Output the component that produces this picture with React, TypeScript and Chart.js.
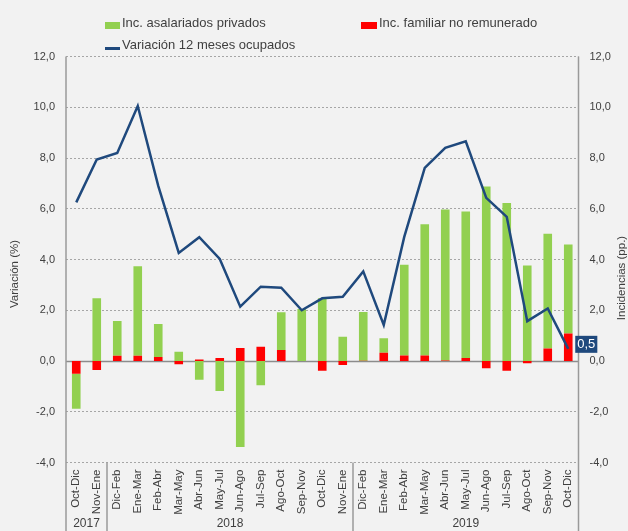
import React, { useEffect, useRef } from 'react';
import { Chart, registerables } from 'chart.js';

Chart.register(...registerables);

const categories = [
  'Oct-Dic', 'Nov-Ene',
  'Dic-Feb', 'Ene-Mar', 'Feb-Abr', 'Mar-May', 'Abr-Jun', 'May-Jul', 'Jun-Ago', 'Jul-Sep', 'Ago-Oct', 'Sep-Nov', 'Oct-Dic', 'Nov-Ene',
  'Dic-Feb', 'Ene-Mar', 'Feb-Abr', 'Mar-May', 'Abr-Jun', 'May-Jul', 'Jun-Ago', 'Jul-Sep', 'Ago-Oct', 'Sep-Nov', 'Oct-Dic',
];
const yearLabels = ['2017', '2018', '2019'];
const yearSpans = [2, 12, 11];

// Inc. asalariados privados (pp.)
const asalariados = [
  -1.38, 2.47,
  1.37, 3.52, 1.30, 0.36, -0.74, -1.18, -3.39, -0.96, 1.49, 2.05, 2.47, 0.96,
  1.92, 0.57, 3.57, 5.17, 5.95, 5.77, 6.88, 6.23, 3.76, 4.52, 3.51,
];
// Inc. familiar no remunerado (pp.)
const familiar = [
  -0.50, -0.35,
  0.21, 0.21, 0.16, -0.13, 0.06, 0.12, 0.51, 0.56, 0.43, 0.0, -0.38, -0.16,
  0.01, 0.33, 0.22, 0.22, 0.02, 0.12, -0.29, -0.38, -0.09, 0.49, 1.08,
];
// Variación 12 meses ocupados (%)
const variacion = [
  6.25, 7.94,
  8.2, 10.05, 6.9, 4.26, 4.88, 4.02, 2.14, 2.93, 2.89, 2.0, 2.47, 2.53,
  3.53, 1.42, 4.89, 7.61, 8.4, 8.66, 6.43, 5.68, 1.57, 2.07, 0.48,
];

const axisMin = -4;
const axisMax = 12;
const axisStep = 2;

const FONT = '"Liberation Sans", Arial, sans-serif';
const TEXT = '#3F3F3F';
const GREEN = '#92D050';
const RED = '#FF0000';
const BLUE = '#1F497D';
const BG = '#F2F2F2';

const fmt = (v: number) => v.toFixed(1).replace('.', ',');

const overlay = {
  id: 'overlay',
  beforeDatasetsDraw(chart: any) {
    const { ctx, chartArea } = chart;
    const y0 = Math.round(chart.scales.y2.getPixelForValue(0)) + 0.5;
    ctx.save();
    ctx.strokeStyle = '#8C8C8C';
    ctx.lineWidth = 1.5;
    ctx.beginPath();
    ctx.moveTo(chartArea.left, y0);
    ctx.lineTo(chartArea.right, y0);
    ctx.stroke();
    ctx.restore();
  },
  afterDraw(chart: any) {
    const { ctx, chartArea, height } = chart;
    const xs = chart.scales.x;
    const half = (xs.getPixelForValue(1) - xs.getPixelForValue(0)) / 2;
    ctx.save();
    ctx.strokeStyle = '#9A9A9A';
    ctx.lineWidth = 1.5;
    const vline = (px: number, y1: number, y2: number) => {
      ctx.beginPath();
      ctx.moveTo(px, y1);
      ctx.lineTo(px, y2);
      ctx.stroke();
    };
    vline(chartArea.left, chartArea.top, height);
    vline(chartArea.right, chartArea.top, height);
    let idx = 0;
    ctx.fillStyle = TEXT;
    ctx.font = `12px ${FONT}`;
    ctx.textAlign = 'center';
    ctx.textBaseline = 'alphabetic';
    yearSpans.forEach((span, i) => {
      const start = idx;
      const end = idx + span - 1;
      if (i > 0) vline(xs.getPixelForValue(start) - half, chartArea.bottom, height);
      const cx = (xs.getPixelForValue(start) + xs.getPixelForValue(end)) / 2;
      ctx.fillText(yearLabels[i], cx, 527);
      idx += span;
    });
    // axis titles
    ctx.font = `11.5px ${FONT}`;
    ctx.textBaseline = 'middle';
    ctx.save();
    ctx.translate(15, 274);
    ctx.rotate(-Math.PI / 2);
    ctx.fillText('Variación (%)', 0, 0);
    ctx.restore();
    ctx.save();
    ctx.translate(622, 278);
    ctx.rotate(-Math.PI / 2);
    ctx.fillText('Incidencias (pp.)', 0, 0);
    ctx.restore();
    // last value label
    const meta = chart.getDatasetMeta(0);
    const last = meta.data[meta.data.length - 1];
    const label = fmt(variacion[variacion.length - 1]);
    ctx.font = `13px ${FONT}`;
    const w = ctx.measureText(label).width + 4;
    const bx = last.x + 7;
    const by = last.y - 13;
    ctx.fillStyle = BLUE;
    ctx.fillRect(bx, by, w, 17);
    ctx.fillStyle = '#FFFFFF';
    ctx.textAlign = 'center';
    ctx.textBaseline = 'middle';
    ctx.fillText(label, bx + w / 2, by + 9);
    ctx.restore();
  },
};

export default function App() {
  const ref = useRef<HTMLCanvasElement>(null);

  useEffect(() => {
    document.body.style.margin = '0';
    document.body.style.background = BG;
    const canvas = ref.current;
    if (!canvas) return;
    const yFont = { family: FONT, size: 11 };
    const xFont = { family: FONT, size: 11.5 };
    const chart = new Chart(canvas, {
      type: 'bar',
      data: {
        labels: categories,
        datasets: [
          {
            type: 'line',
            label: 'Variación 12 meses ocupados',
            data: variacion,
            yAxisID: 'y',
            borderColor: BLUE,
            backgroundColor: BLUE,
            borderWidth: 2.5,
            pointRadius: 0,
            tension: 0,
            fill: false,
          },
          {
            type: 'bar',
            label: 'Inc. familiar no remunerado',
            data: familiar,
            yAxisID: 'y2',
            backgroundColor: RED,
            borderWidth: 0,
            categoryPercentage: 1,
            barPercentage: 0.42,
          },
          {
            type: 'bar',
            label: 'Inc. asalariados privados',
            data: asalariados,
            yAxisID: 'y2',
            backgroundColor: GREEN,
            borderWidth: 0,
            categoryPercentage: 1,
            barPercentage: 0.42,
          },
        ] as any,
      },
      options: {
        responsive: false,
        maintainAspectRatio: false,
        animation: false,
        devicePixelRatio: 1,
        layout: { padding: { top: 56.5, left: 0, right: 0, bottom: 0 } },
        plugins: { legend: { display: false }, tooltip: { enabled: false } },
        scales: {
          x: {
            stacked: true,
            grid: { display: false, drawTicks: false },
            border: { display: false },
            ticks: {
              font: xFont,
              color: TEXT,
              maxRotation: 90,
              minRotation: 90,
              autoSkip: false,
              padding: 7,
            },
            afterFit: (s: any) => { s.height = 68.5; },
          },
          y: {
            position: 'left',
            min: axisMin,
            max: axisMax,
            grid: { color: '#A6A6A6', lineWidth: 1, drawTicks: false },
            border: { display: false, dash: [2, 2] },
            ticks: {
              stepSize: axisStep,
              font: yFont,
              color: TEXT,
              padding: 11,
              callback: (v: any) => fmt(Number(v)),
            },
            afterFit: (s: any) => { s.width = 66; },
          },
          y2: {
            position: 'right',
            stacked: true,
            min: axisMin,
            max: axisMax,
            grid: { display: false, drawTicks: false },
            border: { display: false },
            ticks: {
              stepSize: axisStep,
              font: yFont,
              color: TEXT,
              padding: 11,
              callback: (v: any) => fmt(Number(v)),
            },
            afterFit: (s: any) => { s.width = 49.5; },
          },
        },
      } as any,
      plugins: [overlay],
    });
    return () => chart.destroy();
  }, []);

  const legendText: React.CSSProperties = {
    position: 'absolute',
    fontFamily: FONT,
    fontSize: 13,
    lineHeight: '15px',
    color: TEXT,
    whiteSpace: 'nowrap',
  };

  return (
    <div style={{ position: 'relative', width: 628, height: 531, background: BG, overflow: 'hidden' }}>
      <canvas ref={ref} width={628} height={531} style={{ display: 'block', width: 628, height: 531 }} />
      <div style={{ position: 'absolute', left: 105, top: 22, width: 15, height: 7, background: GREEN }} />
      <div style={{ ...legendText, left: 122, top: 15 }}>Inc. asalariados privados</div>
      <div style={{ position: 'absolute', left: 361, top: 22, width: 16, height: 7, background: RED }} />
      <div style={{ ...legendText, left: 379, top: 15 }}>Inc. familiar no remunerado</div>
      <div style={{ position: 'absolute', left: 105, top: 47, width: 15, height: 2.5, background: BLUE }} />
      <div style={{ ...legendText, left: 122, top: 37 }}>Variación 12 meses ocupados</div>
    </div>
  );
}
